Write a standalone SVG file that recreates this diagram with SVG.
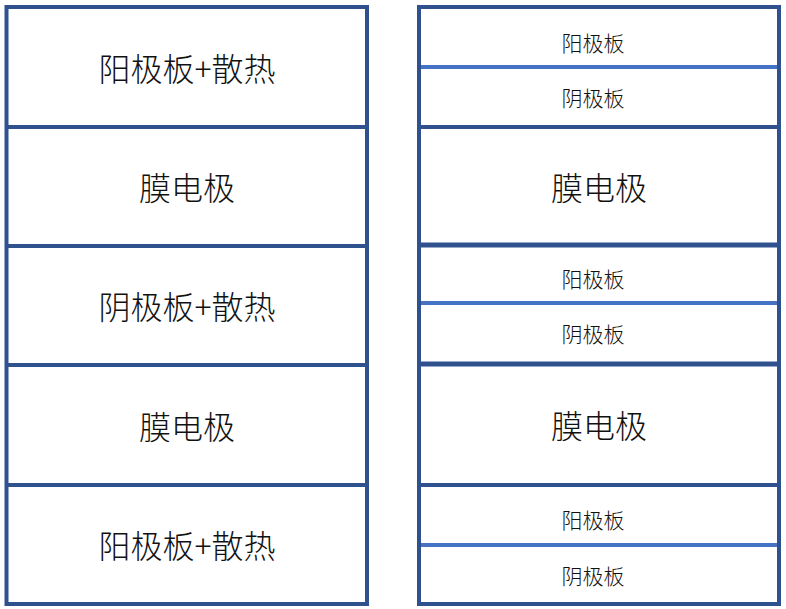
<svg xmlns="http://www.w3.org/2000/svg" width="786" height="609" viewBox="0 0 786 609">
<style>
.dk{stroke:#2F528F;stroke-width:4;fill:none}
.lt{stroke:#4472C4;stroke-width:4;fill:none}
.dk5{stroke:#2F528F;stroke-width:5;fill:none}
text{font-family:"Noto Sans CJK SC","Noto Sans",sans-serif;fill:#111;text-anchor:middle;font-weight:300}
.big{font-size:32px}
.sm{font-size:21px}
</style>
<rect width="786" height="609" fill="#fff"/>
<g id="left">
<g id="l1"><text class="big" x="187" y="81">阳极板+散热</text></g>
<g id="l2"><text class="big" x="187" y="200">膜电极</text></g>
<g id="l3"><text class="big" x="187" y="319">阴极板+散热</text></g>
<g id="l4"><text class="big" x="187" y="439">膜电极</text></g>
<g id="l5"><text class="big" x="187" y="558">阳极板+散热</text></g>
</g>
<g id="right">
<g id="r1"><text class="sm" x="593" y="51">阳极板</text></g>
<g id="r2"><text class="sm" x="593" y="106">阴极板</text></g>
<g id="r3"><text class="big" x="599" y="200">膜电极</text></g>
<g id="r4"><text class="sm" x="593" y="287">阳极板</text></g>
<g id="r5"><text class="sm" x="593" y="342">阴极板</text></g>
<g id="r6"><text class="big" x="599" y="438">膜电极</text></g>
<g id="r7"><text class="sm" x="593" y="528">阳极板</text></g>
<g id="r8"><text class="sm" x="593" y="584">阴极板</text></g>
</g>
<g id="lines">
<rect class="dk" x="6.5" y="7" width="360.5" height="597"/>
<line class="dk" x1="6.5" y1="127" x2="367" y2="127"/>
<line class="dk" x1="6.5" y1="246" x2="367" y2="246"/>
<line class="dk" x1="6.5" y1="365" x2="367" y2="365"/>
<line class="dk" x1="6.5" y1="485" x2="367" y2="485"/>
<line class="lt" x1="419" y1="67" x2="779" y2="67"/>
<line class="dk" x1="419" y1="127" x2="779" y2="127"/>
<line class="dk5" x1="419" y1="245" x2="779" y2="245"/>
<line class="lt" x1="419" y1="303" x2="779" y2="303"/>
<line class="dk5" x1="419" y1="364" x2="779" y2="364"/>
<line class="dk" x1="419" y1="485" x2="779" y2="485"/>
<line class="lt" x1="419" y1="545" x2="779" y2="545"/>
<rect class="dk" x="419" y="7" width="360" height="597"/>
</g>
</svg>
